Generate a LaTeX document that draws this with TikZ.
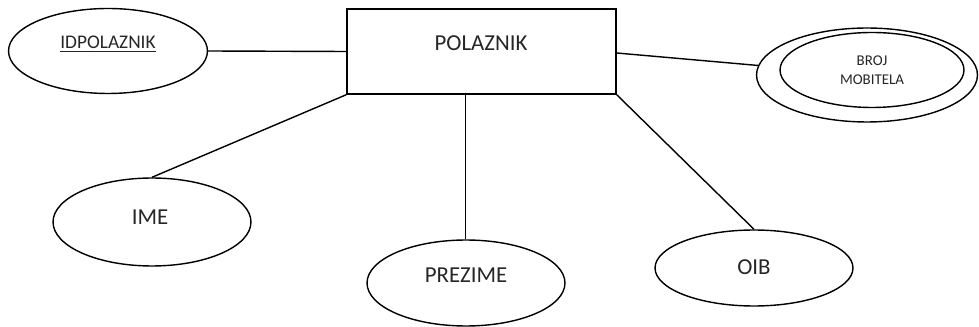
\documentclass[tikz,border=0pt]{standalone}
\usepackage{fontspec}
\setmainfont{Carlito}
\usetikzlibrary{shapes.geometric}
\begin{document}
\begin{tikzpicture}[x=0.02cm,y=-0.02cm,
  attr/.style={draw=black, line width=0.8pt, ellipse, inner sep=0pt},
  entity/.style={draw=black, line width=0.8pt, rectangle, inner sep=0pt},
  lbl/.style={text=black!85, inner sep=0pt, font=\fontsize{13}{15}\selectfont},
  conn/.style={draw=black, line width=0.8pt}]
\useasboundingbox (0,0) rectangle (979,327);
% shapes
\node[entity, minimum width=5.38cm, minimum height=1.7cm] (polaznik) at (481.5,51.5) {};
\node[attr, minimum width=3.98cm, minimum height=1.7cm] (idp) at (108,51) {};
\node[attr, minimum width=4.42cm, minimum height=1.88cm] (broj) at (867,75) {};
\node[attr, minimum width=3.68cm, minimum height=1.5cm] (brojin) at (872,70) {};
\node[attr, minimum width=3.96cm, minimum height=1.76cm] (ime) at (152,222) {};
\node[attr, minimum width=3.96cm, minimum height=1.72cm] (prezime) at (466,283) {};
\node[attr, minimum width=3.96cm, minimum height=1.52cm] (oib) at (754,268) {};
% labels
\node[lbl] (tpol) at (481,43) {POLAZNIK};
\node[lbl, font=\fontsize{11}{13}\selectfont] (tidp) at (108,44) {\underline{IDPOLAZNIK}};
\node[lbl, font=\fontsize{8.5}{10.8}\selectfont, align=center] (tbroj) at (872,70) {BROJ\\MOBITELA};
\node[lbl] (time) at (150,217) {IME};
\node[lbl] (tprez) at (466,275) {PREZIME};
\node[lbl] (toib) at (754,267) {OIB};
% connectors
\draw[conn] (idp.east) -- (polaznik.west);
\draw[conn] ([yshift=-0.03cm]polaznik.east) -- (broj.175);
\draw[conn] (polaznik.south west) -- (ime.north);
\draw[conn] ([xshift=-0.32cm]polaznik.south) -- ([xshift=-0.32cm]polaznik.south |- prezime.north);
\draw[conn] (polaznik.south east) -- (oib.north);
\end{tikzpicture}
\end{document}
